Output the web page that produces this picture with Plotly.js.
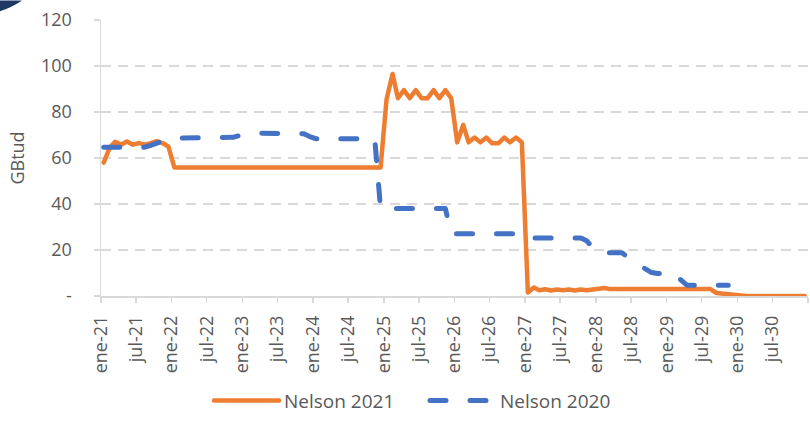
<!DOCTYPE html>
<html>
<head>
<meta charset="utf-8">
<script src="https://cdn.plot.ly/plotly-3.0.1.min.js"></script>
<style>
  html, body { margin: 0; padding: 0; background: #ffffff; }
  #chart { width: 810px; height: 422px; }
  .js-line { stroke-linecap: round; stroke-linejoin: round; }
</style>
</head>
<body>
<div id="chart"></div>
<script>
// ---- Data (monthly, Jan-2021 .. Dec-2030) ----
var startYear = 2021;
var monthCount = 120;

var seriesNames = ["Nelson 2021", "Nelson 2020"];

var nelson2021 = [
  // 2021
  58, 64.5, 67, 65.8, 67.2, 65.8, 66.5, 65.8, 66.5, 67.3, 66.5, 65,
  // 2022
  55.9, 55.9, 55.9, 55.9, 55.9, 55.9, 55.9, 55.9, 55.9, 55.9, 55.9, 55.9,
  // 2023
  55.9, 55.9, 55.9, 55.9, 55.9, 55.9, 55.9, 55.9, 55.9, 55.9, 55.9, 55.9,
  // 2024
  55.9, 55.9, 55.9, 55.9, 55.9, 55.9, 55.9, 55.9, 55.9, 55.9, 55.9, 55.9,
  // 2025
  85.5, 96.5, 86, 89.5, 86, 89.5, 86, 86, 89.5, 86, 89.5, 86,
  // 2026
  66.8, 74.4, 66.8, 68.9, 66.8, 68.9, 66.4, 66.4, 68.9, 66.8, 68.9, 66.8,
  // 2027
  1.5, 3.7, 2.5, 2.9, 2.4, 2.8, 2.5, 2.8, 2.4, 2.8, 2.5, 2.9,
  // 2028
  2.9, 3.5, 3.0, 3.0, 3.0, 3.0, 3.0, 3.0, 3.0, 3.0, 3.0, 3.0,
  // 2029
  3.0, 3.0, 3.0, 3.0, 3.0, 3.0, 3.0, 3.0, 1.3, 1.0, 0.6, 0.2,
  // 2030
  0, 0, 0, 0, 0, 0, 0, 0, 0, 0, 0, 0
];

var nelson2020 = [
  // 2021
  64.7, 64.7, 64.7, 64.7, 64.7, 64.7, 64.7, 64.7, 65.5, 66.5, 67.5, 68.3,
  // 2022
  68.6, 68.6, 68.6, 68.6, 68.6, 68.6, 68.6, 68.6, 68.6, 68.6, 69, 69.7,
  // 2023
  70.4, 70.8, 70.8, 70.8, 70.8, 70.8, 70.8, 70.8, 70.8, 70.8, 70.5, 69.3,
  // 2024
  68.4, 68.4, 68.4, 68.4, 68.4, 68.4, 68.4, 68.4, 68.4, 68.4, 68.4, 38,
  // 2025
  38, 38, 38, 38, 38, 38, 38, 38, 38, 38, 38, 27.1,
  // 2026
  27.1, 27.1, 27.1, 27.1, 27.1, 27.1, 27.1, 27.1, 27.1, 27.1, 27.1, 27.1,
  // 2027
  25.2, 25.2, 25.2, 25.2, 25.2, 25.2, 25.2, 25.2, 25.2, 25.2, 24, 21,
  // 2028
  18.8, 18.8, 18.8, 18.8, 18.8, 16.8, 14.8, 13.2, 11.7, 10.2, 9.8, 9.8,
  // 2029
  9.8, 9.8, 7, 4.7, 4.7, 4.7, 4.7, 4.7, 4.7, 4.7, 4.7, null,
  // 2030
  null, null, null, null, null, null, null, null, null, null, null, null
];

var tickLabels = [
  "ene-21", "jul-21", "ene-22", "jul-22", "ene-23", "jul-23", "ene-24", "jul-24",
  "ene-25", "jul-25", "ene-26", "jul-26", "ene-27", "jul-27", "ene-28", "jul-28",
  "ene-29", "jul-29", "ene-30", "jul-30", ""
];
var yTickValues = [0, 20, 40, 60, 80, 100, 120];
var yTickLabels = ["-", "20", "40", "60", "80", "100", "120"];

// ---- Build category dates (mid-month points) and tick dates ----
function pad(n) { return (n < 10 ? "0" : "") + n; }
var months = [];
for (var i = 0; i < monthCount; i++) {
  var y = startYear + Math.floor(i / 12);
  var m = (i % 12) + 1;
  months.push(y + "-" + pad(m) + "-15");
}
var tickDates = [];
for (var k = 0; k < tickLabels.length; k++) {
  var ty = startYear + Math.floor(k / 2);
  tickDates.push(ty + "-" + (k % 2 === 0 ? "01" : "07") + "-01");
}

var fontFam = "Open Sans, Liberation Sans, Arial, sans-serif";
var grey = "#595959";

var traces = [
  {
    x: months, y: nelson2021, name: seriesNames[0],
    type: "scatter", mode: "lines",
    line: { color: "#ED7D31", width: 4.5 },
    hoverinfo: "skip"
  },
  {
    x: months, y: nelson2020, name: seriesNames[1],
    type: "scatter", mode: "lines",
    line: { color: "#4472C4", width: 5, dash: "16px,24px" },
    connectgaps: false,
    hoverinfo: "skip"
  }
];

function px2x(px) { return (px - 101) / 707; }
function px2y(py) { return (302 - py) / 282; }

var layout = {
  width: 810, height: 422,
  margin: { l: 101, r: 2, t: 20, b: 120, pad: 0 },
  paper_bgcolor: "#ffffff",
  plot_bgcolor: "#ffffff",
  font: { family: fontFam, color: grey, size: 18 },
  showlegend: true,
  legend: {
    orientation: "h",
    x: px2x(209), xanchor: "left",
    y: px2y(409), yanchor: "middle",
    font: { family: fontFam, size: 19, color: grey },
    itemwidth: 65,
    entrywidth: 136, entrywidthmode: "pixels",
    bgcolor: "rgba(0,0,0,0)"
  },
  xaxis: {
    type: "date",
    range: ["2021-01-01", "2031-01-01"],
    tickmode: "array",
    tickvals: tickDates,
    ticktext: tickLabels,
    tickangle: -90,
    ticks: "outside", ticklen: 5, tickwidth: 1.5, tickcolor: "#d9d9d9",
    ticklabelstandoff: 6,
    tickfont: { family: fontFam, size: 18, color: grey },
    showgrid: false,
    showline: true, linecolor: "#d9d9d9", linewidth: 1.5,
    zeroline: false,
    fixedrange: true
  },
  yaxis: {
    range: [0, 120],
    tickmode: "array",
    tickvals: yTickValues,
    ticktext: yTickLabels,
    ticks: "outside", ticklen: 6, tickwidth: 1.5, tickcolor: "#d9d9d9",
    ticklabelstandoff: 18,
    tickfont: { family: fontFam, size: 18, color: grey },
    showgrid: true, gridcolor: "#d9d9d9", gridwidth: 1.5, griddash: "10px,7px",
    showline: true, linecolor: "#d9d9d9", linewidth: 1.5,
    zeroline: false,
    title: { text: "GBtud", font: { family: fontFam, size: 18, color: grey }, standoff: 11 },
    fixedrange: true
  },
  shapes: [
    {
      type: "path", xref: "paper", yref: "paper",
      path: "M " + px2x(0) + "," + px2y(0) + " L " + px2x(22) + "," + px2y(0) +
            " Q " + px2x(12) + "," + px2y(7) + " " + px2x(0) + "," + px2y(11) + " Z",
      fillcolor: "#203864", line: { width: 0 }, layer: "above"
    }
  ]
};

Plotly.newPlot("chart", traces, layout, { staticPlot: true, displayModeBar: false });
</script>
</body>
</html>
